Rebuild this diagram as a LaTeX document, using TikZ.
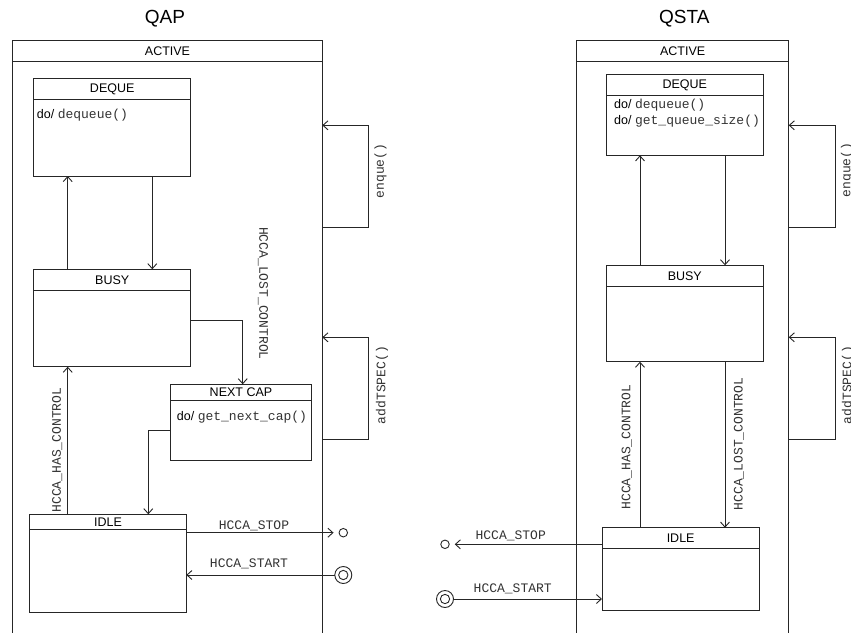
\documentclass[tikz,border=0pt]{standalone}
\usepackage{fontspec}
\setmainfont{Liberation Sans}
\setmonofont{Liberation Mono}
\usetikzlibrary{arrows.meta}
\newcommand{\mtxt}[1]{{\ttfamily\fontsize{13}{15}\selectfont\color{black!80}#1}}
\newcommand{\umlstate}[7]{%
  \node[sbox, anchor=north west, minimum width={(#4-#2)*1pt}, minimum height={(#5-#3)*1pt}] (#1) at (#2,#3) {};
  \draw[ln] (#2,#6) -- (#4,#6);
  \node[stitle] (#1-title) at ({(#2+#4)/2},{(#3+#6)/2}) {#7};
}
\tikzset{
  ln/.style={line width=0.9pt, draw=black!85},
  sbox/.style={draw=black!85, line width=0.9pt, rectangle, inner sep=0pt, outer sep=0pt, fill=white},
  stitle/.style={font=\fontsize{12.5}{14}\selectfont, inner sep=0pt},
  mono/.style={font=\ttfamily\fontsize{13}{15}\selectfont, text=black!80, inner sep=0pt},
  dotext/.style={font=\fontsize{12.5}{14}\selectfont, inner sep=0pt, anchor=west},
  arr/.style={ln, -{Straight Barb[length=5pt,width=9pt,line width=0.9pt]}},
  bigtitle/.style={font=\fontsize{19}{22}\selectfont, inner sep=0pt},
  endpt/.style={circle, draw=black!85, line width=0.9pt, inner sep=0pt, outer sep=0pt},
}
\begin{document}
\begin{tikzpicture}[x=1pt,y=-1pt]
\useasboundingbox (0,0) rectangle (851,632);
\clip (0,0) rectangle (851,632);
\fill[white] (0,0) rectangle (851,632);

% ================= QAP =================
\node[bigtitle] (qaptitle) at (165,18.5) {QAP};
\umlstate{qactive}{12.7}{40.7}{322.3}{660}{61.7}{ACTIVE}
\umlstate{qdeque}{33.7}{78.7}{190.7}{176}{99.3}{DEQUE}
\node[dotext] (qdo1) at (36.7,115) {do/ \mtxt{dequeue()}};
\umlstate{qbusy}{33.7}{269.3}{190.7}{366.7}{290.3}{BUSY}
\umlstate{qnext}{170.7}{384.3}{311.3}{460.3}{400}{NEXT CAP}
\node[dotext] (qdo2) at (176.7,416.7) {do/ \mtxt{get\_next\_cap()}};
\umlstate{qidle}{29.7}{514.3}{186.3}{612.3}{529.3}{IDLE}

\coordinate (qxa) at (67.7,0);
\coordinate (qxb) at (152.3,0);
\draw[arr] (qbusy.north -| qxa) -- (qdeque.south -| qxa);
\draw[arr] (qdeque.south -| qxb) -- (qbusy.north -| qxb);
\coordinate (qa1) at (242.7,320.7);
\draw[arr] (qbusy.east |- qa1) -| (qnext.north -| qa1);
\coordinate (qb1) at (148.3,430.7);
\draw[arr] (qnext.west |- qb1) -| (qidle.north -| qb1);
\draw[arr] (qidle.north -| qxa) -- (qbusy.south -| qxa);
\node[mono, rotate=90] (qhas) at (57.3,450) {HCCA\_HAS\_CONTROL};
\node[mono, rotate=-90] (qlost) at (263,293.5) {HCCA\_LOST\_CONTROL};

\coordinate (qe1) at (368.7,227.3);
\coordinate (qe2) at (368.7,125.3);
\draw[arr] (qactive.east |- qe1) -- (qe1) -- (qe2) -- (qactive.east |- qe2);
\node[mono, rotate=90] (qenq) at (380.5,171) {enque()};
\coordinate (qt1) at (368.7,439);
\coordinate (qt2) at (368.7,337.3);
\draw[arr] (qactive.east |- qt1) -- (qt1) -- (qt2) -- (qactive.east |- qt2);
\node[mono, rotate=90] (qadd) at (382,385) {addTSPEC()};

\node[endpt, minimum size=8.5pt] (qfin) at (343.3,532.7) {};
\draw[arr] (qidle.east |- qfin) -- ([xshift=-5.5pt]qfin.west);
\node[mono] (qstop) at (254,525.5) {HCCA\_STOP};
\node[endpt, minimum size=17pt] (qini) at (343.3,575) {};
\node[endpt, minimum size=9.3pt] (qini-in) at (qini) {};
\draw[arr] (qini.west) -- (qidle.east |- qini);
\node[mono] (qstart) at (249,564.3) {HCCA\_START};

% ================= QSTA =================
\node[bigtitle] (qstatitle) at (684.3,18.5) {QSTA};
\umlstate{sactive}{576.7}{40.7}{788.7}{660}{61.7}{ACTIVE}
\umlstate{sdeque}{606.3}{74.3}{763.3}{155.3}{95.7}{DEQUE}
\node[dotext] (sdo1) at (614,105.3) {do/ \mtxt{dequeue()}};
\node[dotext] (sdo2) at (614,121) {do/ \mtxt{get\_queue\_size()}};
\umlstate{sbusy}{606.3}{265.3}{763.3}{361.7}{286.3}{BUSY}
\umlstate{sidle}{602}{527.7}{759.3}{610.7}{548.3}{IDLE}

\coordinate (sxa) at (640,0);
\coordinate (sxb) at (725,0);
\draw[arr] (sbusy.north -| sxa) -- (sdeque.south -| sxa);
\draw[arr] (sdeque.south -| sxb) -- (sbusy.north -| sxb);
\draw[arr] (sidle.north -| sxa) -- (sbusy.south -| sxa);
\draw[arr] (sbusy.south -| sxb) -- (sidle.north -| sxb);
\node[mono, rotate=90] (shas) at (626.7,447) {HCCA\_HAS\_CONTROL};
\node[mono, rotate=90] (slost) at (739,444) {HCCA\_LOST\_CONTROL};

\coordinate (se1) at (835.3,227.3);
\coordinate (se2) at (835.3,125.3);
\draw[arr] (sactive.east |- se1) -- (se1) -- (se2) -- (sactive.east |- se2);
\node[mono, rotate=90] (senq) at (847,170) {enque()};
\coordinate (st1) at (835.3,439);
\coordinate (st2) at (835.3,337.3);
\draw[arr] (sactive.east |- st1) -- (st1) -- (st2) -- (sactive.east |- st2);
\node[mono, rotate=90] (sadd) at (848,385) {addTSPEC()};

\node[endpt, minimum size=8.5pt] (sfin) at (445,544.3) {};
\draw[arr] (sidle.west |- sfin) -- ([xshift=5.5pt]sfin.east);
\node[mono] (sstop) at (510.7,536) {HCCA\_STOP};
\node[endpt, minimum size=17pt] (sini) at (445,599) {};
\node[endpt, minimum size=9.3pt] (sini-in) at (sini) {};
\draw[arr] (sini.east) -- (sidle.west |- sini);
\node[mono] (sstart) at (512.7,588.7) {HCCA\_START};
\end{tikzpicture}
\end{document}
